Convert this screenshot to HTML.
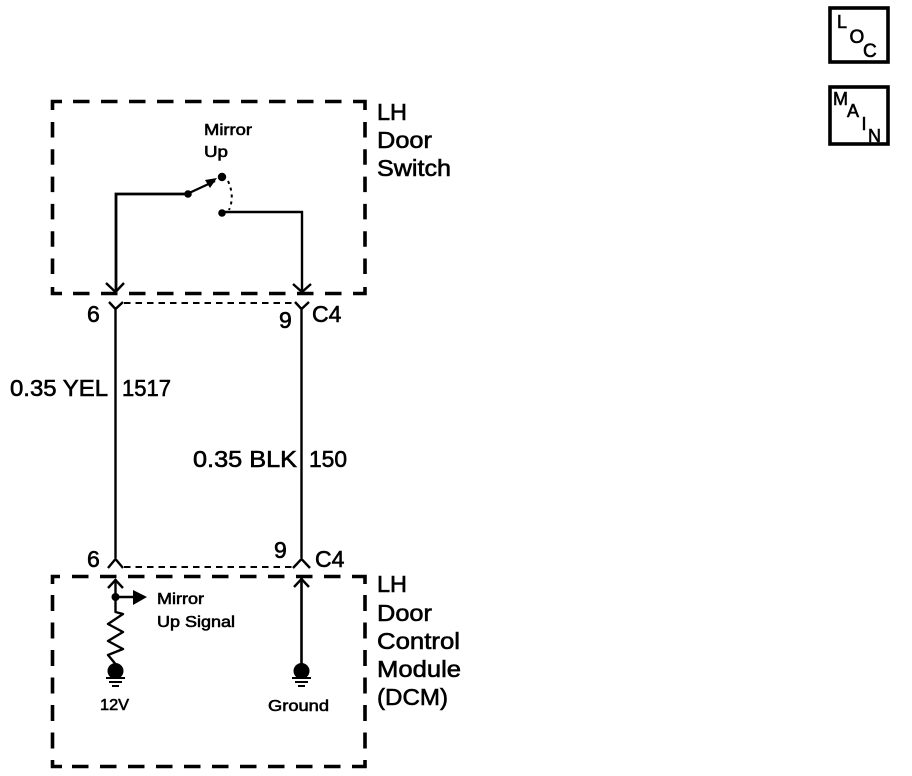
<!DOCTYPE html>
<html>
<head>
<meta charset="utf-8">
<style>
html,body{margin:0;padding:0;background:#fff;width:912px;height:776px;overflow:hidden}
svg{display:block}
text{font-family:"Liberation Sans",sans-serif;fill:#000;stroke:#000;stroke-width:.6px}
</style>
</head>
<body>
<svg width="912" height="776" viewBox="0 0 912 776" xmlns="http://www.w3.org/2000/svg">
<g fill="none" stroke="#000">
  <!-- upper dashed box -->
  <g stroke-width="3.6">
    <path d="M73 101.500H358" stroke-dasharray="16.500 11.500"/>
    <path d="M73 293.500H358" stroke-dasharray="16.500 11.500"/>
    <path d="M52.500 122V282" stroke-dasharray="15.500 11.800"/>
    <path d="M365 122V282" stroke-dasharray="15.500 11.800"/>
    <path d="M52.500 110V101.500H62M52.500 287V293.500H62M358 101.500H365V110M358 293.500H365V287"/>
    <!-- lower dashed box -->
    <path d="M72 576.500H358" stroke-dasharray="16.500 11.500"/>
    <path d="M72 766.500H358" stroke-dasharray="16.500 11.500"/>
    <path d="M52.500 595V755" stroke-dasharray="16 11.500"/>
    <path d="M365 595V755" stroke-dasharray="16 11.500"/>
    <path d="M52.500 584V576.500H60M52.500 760V766.500H62M358 576.500H365V584M358 766.500H365V760"/>
  </g>
  <!-- connector dashes -->
  <path d="M124 303H293" stroke-width="2" stroke-dasharray="6.500 5"/>
  <path d="M124 567H293" stroke-width="2" stroke-dasharray="6.500 5"/>
  <!-- switch wiring -->
  <path d="M187 194H116V292" stroke-width="2.800"/>
  <path d="M106 283L115.500 292L124 283" stroke-width="2.400"/>
  <path d="M221 212H302V292" stroke-width="2.400"/>
  <path d="M293 284L302 292L311 284" stroke-width="2.400"/>
  <path d="M187 194L215 181" stroke-width="2.200"/>
  <path d="M228 181Q235 196 229 210" stroke-width="2" stroke-dasharray="3 4"/>
  <!-- connector forks and wires -->
  <path d="M109 302L115.500 309L123 302M115.500 309V558M108 568L115.500 559L123 568" stroke-width="2.400"/>
  <path d="M295 302L301.500 309L309 302M301.500 309V558M293 568L301.500 559L310 568" stroke-width="2.400"/>
  <!-- lower left -->
  <path d="M115.500 579V612L123 614L108 624L123 632L108 641L123 649L108 655L115.500 664" stroke-width="2.400" stroke-linejoin="round"/>
  <path d="M108 588L115.500 580L123 588" stroke-width="2.400"/>
  <path d="M115.500 597H135" stroke-width="2.600"/>
  <!-- lower right -->
  <path d="M301.500 578V665" stroke-width="2.600"/>
  <path d="M294 587L301.500 579L309 587" stroke-width="2.400"/>
  <!-- grounds -->
  <path d="M106 678H125M109 682H122M112 686H119" stroke-width="2"/>
  <path d="M292 678H311M295 682H308M298 686H305" stroke-width="2"/>
  <!-- LOC/MAIN boxes -->
  <rect x="830" y="8" width="58" height="54" stroke-width="3.600"/>
  <rect x="830" y="87" width="58" height="57" stroke-width="3.600"/>
</g>
<g fill="#000">
  <circle cx="188" cy="194" r="3.800"/>
  <circle cx="222" cy="177" r="4.200"/>
  <circle cx="222" cy="213" r="3.800"/>
  <path d="M217 178L205 180L210 188Z"/>
  <circle cx="115.500" cy="597" r="4"/>
  <path d="M133 590L147 597L133 605Z"/>
  <circle cx="115.500" cy="671" r="8"/>
  <circle cx="301.500" cy="671" r="8"/>
</g>
<g font-size="16" lengthAdjust="spacingAndGlyphs">
  <text x="204" y="135" textLength="48" lengthAdjust="spacingAndGlyphs">Mirror</text>
  <text x="204" y="157" textLength="24" lengthAdjust="spacingAndGlyphs">Up</text>
  <text x="157" y="604" textLength="47" lengthAdjust="spacingAndGlyphs">Mirror</text>
  <text x="157" y="627" textLength="78" lengthAdjust="spacingAndGlyphs">Up Signal</text>
  <text x="100" y="710" textLength="29" lengthAdjust="spacingAndGlyphs">12V</text>
  <text x="268" y="711" textLength="61" lengthAdjust="spacingAndGlyphs">Ground</text>
</g>
<g font-size="23">
  <text x="377" y="120" textLength="30" lengthAdjust="spacingAndGlyphs">LH</text>
  <text x="377" y="148" textLength="55" lengthAdjust="spacingAndGlyphs">Door</text>
  <text x="377" y="176" textLength="74" lengthAdjust="spacingAndGlyphs">Switch</text>
  <text x="377" y="592" textLength="30" lengthAdjust="spacingAndGlyphs">LH</text>
  <text x="377" y="621" textLength="55" lengthAdjust="spacingAndGlyphs">Door</text>
  <text x="377" y="649" textLength="83" lengthAdjust="spacingAndGlyphs">Control</text>
  <text x="377" y="677" textLength="84" lengthAdjust="spacingAndGlyphs">Module</text>
  <text x="377" y="705" textLength="71" lengthAdjust="spacingAndGlyphs">(DCM)</text>
  <text x="87" y="322">6</text>
  <text x="279" y="328">9</text>
  <text x="312" y="322">C4</text>
  <text x="87" y="567">6</text>
  <text x="274" y="558">9</text>
  <text x="315" y="567">C4</text>
  <text x="10" y="396" textLength="98" lengthAdjust="spacingAndGlyphs">0.35 YEL</text>
  <text x="122" y="396" textLength="49" lengthAdjust="spacingAndGlyphs">1517</text>
  <text x="193" y="467" textLength="104" lengthAdjust="spacingAndGlyphs">0.35 BLK</text>
  <text x="309" y="467" textLength="38" lengthAdjust="spacingAndGlyphs">150</text>
</g>
<g font-size="18">
  <text x="837" y="28">L</text>
  <text x="849.500" y="43" font-size="19">O</text>
  <text x="863" y="57" font-size="19">C</text>
  <text x="833" y="105">M</text>
  <text x="847" y="117">A</text>
  <text x="861.500" y="130">I</text>
  <text x="868" y="142">N</text>
</g>
</svg>
</body>
</html>
